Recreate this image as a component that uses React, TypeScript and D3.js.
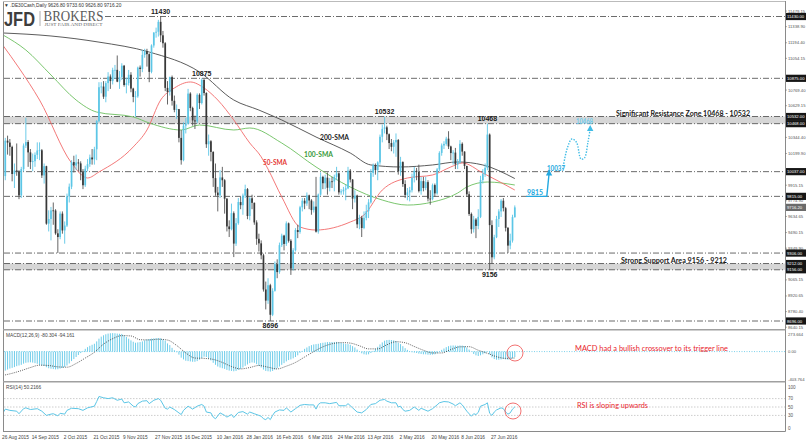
import React from 'react';
import * as d3 from 'd3';

// ---------- DATA ----------
// daily candles [open, high, low, close]
const ohlc: number[][] = [
[9880,10330,9720,9997],[9997,10340,9960,10315],[10315,10360,10190,10298],[10298,10330,10180,10259],[10259,10270,9950,10016],
[10016,10110,9890,10048],[10048,10290,10000,10038],[10038,10050,9790,9824],[9824,10080,9800,10060],[10060,10290,10040,10271],
[10271,10520,10250,10303],[10303,10320,10080,10210],[10210,10240,10060,10123],[10123,10200,10040,10131],[10131,10210,10080,10188],
[10188,10300,10150,10227],[10227,10300,10140,10229],[10229,10240,9980,10003],[10003,10110,9930,10086],[10086,10090,9560,9570],
[9570,9690,9500,9612],[9612,9720,9420,9689],[9689,9760,9560,9688],[9688,9700,9470,9483],[9483,9520,9306,9450],
[9450,9680,9430,9660],[9660,9680,9480,9509],[9509,9590,9390,9553],[9553,9840,9540,9814],[9814,9930,9760,9902],
[9902,10140,9880,10123],[10123,10180,10030,10092],[10092,10190,10050,10119],[10119,10150,10040,10111],[10111,10130,9960,10033],
[10033,10060,9880,9915],[9915,10090,9900,10064],[10064,10150,10040,10104],[10104,10190,10080,10164],[10164,10240,10100,10147],
[10147,10260,10100,10238],[10238,10500,10140,10491],[10491,10840,10480,10795],[10795,10840,10740,10801],[10801,10850,10690,10710],
[10710,10850,10660,10832],[10832,10930,10760,10891],[10891,10910,10780,10850],[10850,10970,10820,10950],[10950,10995,10870,10951],
[10951,11080,10840,10845],[10845,10940,10780,10887],[10887,11010,10860,10988],[10988,10995,10800,10815],[10815,10880,10740,10832],
[10832,10950,10810,10907],[10907,10930,10750,10783],[10783,10790,10660,10708],[10708,10760,10530,10713],[10713,10980,10700,10971],
[10971,10990,10890,10959],[10959,11130,10930,11085],[11085,11140,11060,11119],[11119,11140,10980,11092],[11092,11100,10840,10933],
[10933,11180,10920,11170],[11170,11290,11150,11285],[11285,11330,11240,11293],[11293,11400,11250,11382],[11382,11430,11200,11261],
[11261,11300,11150,11190],[11190,11200,10760,10789],[10789,10850,10640,10752],[10752,10890,10720,10886],[10886,10900,10630,10673],
[10673,10720,10570,10592],[10592,10640,10510,10598],[10598,10600,10300,10340],[10340,10410,10100,10140],[10140,10480,10130,10450],
[10450,10520,10380,10469],[10469,10780,10460,10738],[10738,10750,10580,10608],[10608,10620,10450,10497],[10497,10540,10420,10488],
[10488,10740,10470,10727],[10727,10740,10600,10653],[10653,10875,10640,10860],[10860,10870,10720,10743],[10743,10750,10250,10283],
[10283,10370,10180,10310],[10310,10320,10130,10214],[10214,10220,9900,9979],[9979,10110,9820,9849],[9849,9900,9680,9825],
[9825,10050,9800,9985],[9985,10080,9900,9960],[9960,9970,9660,9794],[9794,9800,9500,9545],[9545,9600,9450,9521],
[9521,9750,9510,9664],[9664,9680,9270,9391],[9391,9620,9370,9574],[9574,9800,9560,9764],[9764,9810,9700,9736],
[9736,9840,9650,9822],[9822,9920,9800,9880],[9880,9890,9610,9639],[9639,9810,9600,9798],[9798,9830,9700,9757],
[9757,9760,9560,9581],[9581,9600,9380,9434],[9434,9480,9320,9393],[9393,9420,9250,9286],[9286,9300,8960,8979],
[8979,9050,8800,8879],[8879,9080,8850,9017],[9017,9030,8696,8752],[8752,8990,8740,8967],[8967,9230,8960,9206],
[9206,9250,9080,9135],[9135,9400,9120,9377],[9377,9480,9360,9463],[9463,9470,9330,9388],[9388,9590,9370,9573],
[9573,9580,9400,9416],[9416,9430,9110,9167],[9167,9350,9150,9331],[9331,9530,9320,9513],[9513,9560,9440,9495],
[9495,9730,9480,9717],[9717,9800,9680,9776],[9776,9800,9700,9751],[9751,9850,9730,9824],[9824,9830,9700,9778],
[9778,9790,9650,9692],[9692,9770,9670,9723],[9723,9990,9490,9498],[9498,9840,9480,9831],[9831,10030,9820,9990],
[9990,10000,9880,9933],[9933,10010,9880,9983],[9983,10030,9830,9892],[9892,9980,9860,9950],[9950,9990,9890,9948],
[9948,10010,9860,9990],[9990,10080,9960,10022],[10022,10030,9830,9851],[9851,9880,9830,9860],[9860,9900,9830,9875],
[9875,9920,9780,9887],[9887,10080,9880,10046],[10046,10060,9940,9966],[9966,9970,9700,9795],[9795,9870,9760,9822],
[9822,9830,9530,9564],[9564,9650,9520,9624],[9624,9640,9450,9531],[9531,9680,9520,9622],[9622,9740,9600,9682],
[9682,9790,9620,9761],[9761,10060,9750,10026],[10026,10110,9990,10094],[10094,10110,10010,10051],[10051,10130,9960,10120],
[10120,10370,10100,10350],[10350,10460,10300,10421],[10421,10532,10380,10435],[10435,10450,10320,10373],[10373,10380,10240,10294],
[10294,10330,10220,10260],[10260,10320,10200,10300],[10300,10380,10170,10321],[10321,10330,10010,10039],[10039,10170,10000,10123],
[10123,10130,9900,9926],[9926,9960,9800,9828],[9828,9890,9780,9851],[9851,9900,9770,9870],[9870,10020,9850,9980],
[9980,10080,9940,10045],[10045,10070,9960,10036],[10036,10100,9850,9862],[9862,9990,9830,9952],[9952,9990,9860,9890],
[9890,9990,9870,9943],[9943,9960,9770,9795],[9795,9870,9740,9790],[9790,9930,9780,9916],[9916,9930,9810,9842],
[9842,10070,9830,10057],[10057,10220,10040,10205],[10205,10290,10180,10272],[10272,10310,10240,10286],[10286,10350,10270,10333],
[10333,10400,10240,10263],[10263,10270,10140,10204],[10204,10230,10100,10208],[10208,10250,10060,10103],[10103,10150,10060,10121],
[10121,10320,10110,10287],[10287,10300,10180,10217],[10217,10220,10060,10088],[10088,10090,9810,9834],[9834,9860,9640,9657],
[9657,9670,9480,9520],[9520,9640,9490,9607],[9607,9620,9440,9550],[9550,9700,9520,9631],[9631,10000,9620,9962],
[9962,10060,9930,10015],[10015,10110,9990,10071],[10071,10468,10050,10370],[10370,10380,9156,9557],[9557,9600,9210,9268],
[9268,9470,9250,9448],[9448,9640,9440,9612],[9612,9700,9540,9680],[9680,9790,9630,9776],[9776,9800,9680,9709],
[9709,9720,9500,9532],[9532,9540,9306,9373],[9373,9480,9340,9418],[9418,9650,9400,9629],[9626.8,9733.6,9626.8,9716.2]
];

// moving averages [bar index, value]
const sma50: number[][] = [[0,11170],[7,10968],[16,10680],[30,10115],[37,9980],[42,10034],[57,10259],[63,10411],[69,10680],[75,10788],[82,10842],[88,10788],[94,10680],[101,10501],[108,10294],[113,10170],[116,10060],[122,9810],[130,9540],[137,9513],[152,9585],[158,9648],[166,9872],[177,9980],[188,10007],[196,10079],[201,10115],[210,10025],[224,9872]];
const sma100: number[][] = [[0,11264],[10,11129],[21,10905],[32,10680],[41,10572],[57,10528],[64,10474],[78,10411],[86,10456],[101,10411],[108,10429],[122,10294],[137,10079],[152,9899],[166,9782],[177,9737],[188,9764],[199,9845],[203,9899],[212,9944],[224,9917]];
const sma200: number[][] = [[0,11282],[21,11255],[42,11200],[64,11111],[86,10932],[101,10680],[112,10590],[122,10501],[137,10348],[152,10204],[161,10097],[174,10079],[188,10097],[199,10124],[210,10097],[224,9975]];

// MACD(12,26,9) main values per bar and signal line
const macdMain: number[] = [
-290,-280,-265,-250,-240,-228,-215,-205,-195,-178,
-165,-160,-158,-162,-170,-180,-195,-205,-212,-230,
-245,-252,-258,-262,-260,-250,-240,-228,-205,-175,
-140,-110,-80,-50,-22,10,40,65,85,100,
115,150,190,220,240,255,265,270,272,270,
265,262,260,240,215,190,165,145,130,135,
140,150,165,180,185,190,195,198,200,195,
180,160,120,95,55,20,-10,-45,-90,-115,
-135,-140,-145,-150,-150,-140,-120,-95,-75,-80,
-100,-130,-165,-195,-220,-235,-245,-255,-270,-280,
-285,-290,-285,-270,-255,-235,-210,-190,-170,-160,
-165,-185,-210,-235,-265,-285,-290,-295,-285,-265,
-245,-220,-195,-170,-145,-125,-115,-100,-80,-55,
-20,10,40,60,80,95,105,110,115,125,
130,135,140,140,140,140,142,135,128,120,
112,110,100,80,60,30,0,-25,-40,-45,
-40,-20,10,40,70,105,135,160,170,172,
170,165,155,130,110,80,50,25,5,-10,
-15,-20,-30,-35,-40,-40,-45,-48,-45,-40,
-25,0,25,45,65,80,88,90,88,85,
90,88,80,60,30,-5,-35,-55,-65,-55,
-40,-25,-5,-40,-85,-110,-120,-120,-115,-110,
-115,-120,-115,-100,-80.304
];
const macdSignal: number[][] = [[0,-350],[4,-320],[8,-280],[12,-235],[16,-200],[20,-205],[24,-225],[28,-230],[32,-175],[36,-95],[40,-10],[44,110],[48,190],[52,235],[56,230],[60,175],[64,172],[68,182],[72,170],[76,90],[80,-20],[84,-95],[88,-100],[92,-115],[96,-160],[100,-220],[104,-255],[108,-235],[112,-205],[116,-230],[120,-255],[124,-215],[128,-160],[132,-80],[136,0],[140,70],[144,115],[148,132],[152,125],[156,85],[160,40],[164,40],[168,100],[172,145],[176,130],[180,75],[184,20],[188,-20],[192,-20],[196,30],[200,70],[204,72],[208,20],[212,-25],[216,-75],[220,-100],[224,-94.161]];

// RSI(14) [bar index, value]
const rsi14: number[][] = [[0,36],[1,45],[3,42],[6,40],[7,34],[9,46],[10,48],[12,44],[15,46],[17,40],[19,30],[21,33],[22,34],[24,29],[25,35],[27,33],[28,42],[30,47],[33,46],[35,42],[37,48],[40,52],[41,63],[42,75],[44,72],[46,70],[48,72],[50,66],[52,69],[53,60],[55,62],[57,52],[58,50],[59,58],[61,64],[63,65],[64,58],[66,66],[68,70],[69,66],[71,47],[72,45],[73,50],[75,44],[77,36],[78,32],[79,42],[81,52],[83,45],[85,52],[87,56],[88,52],[89,38],[91,36],[92,26],[93,22],[95,36],[97,30],[98,26],[100,32],[101,25],[103,37],[105,39],[107,33],[108,38],[110,34],[112,30],[113,28],[114,22],[115,20],[116,25],[117,20],[118,30],[119,38],[121,43],[123,42],[124,48],[126,38],[128,46],[130,54],[132,56],[134,55],[136,55],[137,45],[138,56],[139,60],[141,60],[143,58],[146,61],[147,53],[150,53],[151,58],[153,48],[155,38],[157,36],[159,44],[161,56],[163,58],[165,66],[167,68],[168,64],[170,60],[172,60],[173,50],[174,52],[175,44],[176,40],[178,42],[180,50],[182,42],[183,47],[186,40],[188,46],[190,55],[191,60],[193,63],[195,62],[197,57],[198,53],[200,60],[201,55],[203,40],[205,28],[206,34],[207,32],[208,37],[209,52],[211,56],[212,60],[213,35],[214,30],[215,38],[216,43],[218,48],[219,46],[220,38],[221,33],[222,36],[223,45],[224,50.2166]];

const priceTicks: number[] = [11479.15,11338.90,11194.40,11054.15,10908.65,10769.40,10629.15,10489.90,10344.40,10199.90,10059.65,9915.15,9774.90,9634.65,9490.15,9349.90,9209.65,9065.15,8920.65,8780.40,8640.15];
const keyLevels: number[] = [11430,10875,10532,10468,10037,9815,9306,9212,9156,8696];
const resistanceZone: number[] = [10468,10532];
const supportZone: number[] = [9156,9212];
const currentPrice = 9716.2;
const macdTicks: string[][] = [['273.664','273.664'],['0','0.00'],['-403.764','-403.764']];
const rsiTicks: number[] = [100,70,50,30,0];
const rsiLevels: number[] = [70,50,30];
const dateLabels: [number,string][] = [[0,'26 Aug 2015'],[13,'14 Sep 2015'],[27,'2 Oct 2015'],[40,'21 Oct 2015'],[53,'9 Nov 2015'],[67,'27 Nov 2015'],[80,'16 Dec 2015'],[94,'10 Jan 2016'],[107,'28 Jan 2016'],[120,'16 Feb 2016'],[134,'6 Mar 2016'],[147,'24 Mar 2016'],[160,'13 Apr 2016'],[174,'2 May 2016'],[188,'20 May 2016'],[201,'8 Jun 2016'],[214,'27 Jun 2016']];
// swing labels: [bar index, price, text, above?]
const swingLabels: [number,number,string,boolean][] = [[69,11430,'11430',true],[87,10875,'10875',true],[167,10532,'10532',true],[212,10468,'10468',true],[213,9156,'9156',false],[117,8696,'8696',false]];
// projected path [bar index, price]
const projSolid: number[][] = [[229,9815],[238,9815],[239,10020]];
const projDotted: number[][] = [[245,10060],[247,10250],[249,10330],[251,10300],[253,10150],[254.5,10160],[256,10300],[257,10420]];

const BULL = '#5cc6e6';
const BEAR = '#383838';
const CYAN = '#22a8e0';
const FONT = '"Liberation Sans", Arial, sans-serif';
const BOLD = 'Lato, "Open Sans", sans-serif';

export default function App() {
  const x = d3.scaleLinear().domain([0, 224]).range([3, 514.8]);
  const y = d3.scaleLinear().domain([8696, 11430]).range([321, 16.5]);
  const ym = d3.scaleLinear().domain([-403.764, 273.664]).range([379, 333]);
  const yr = d3.scaleLinear().domain([0, 100]).range([428, 386]);
  const L = 4, R = 785;

  const smaLine = d3.line<number[]>().x(d => x(d[0])).y(d => y(d[1])).curve(d3.curveMonotoneX);
  const sigLine = d3.line<number[]>().x(d => x(d[0])).y(d => ym(d[1])).curve(d3.curveMonotoneX);
  const rsiLine = d3.line<number[]>().x(d => x(d[0])).y(d => yr(d[1]));
  const projLine = d3.line<number[]>().x(d => x(d[0])).y(d => y(d[1]));
  const projCurve = d3.line<number[]>().x(d => x(d[0])).y(d => y(d[1])).curve(d3.curveCatmullRom);

  const dashDot = '6,2,1,2';
  const arrowHead = (px: number, py: number) => `M${px - 3.2},${py + 6} L${px},${py} L${px + 3.2},${py + 6} Z`;

  const s1 = projSolid[projSolid.length - 1];
  const s2 = projDotted[projDotted.length - 1];

  // axis labels hidden behind the level boxes are not drawn
  const boxYs = [...keyLevels, currentPrice].map(v => y(v));
  const visibleTicks = priceTicks.filter(v => {
    const yy = Math.max(4.5, Math.min(327.5, y(v)));
    return boxYs.every(b => Math.abs(b - yy) > 4);
  });

  const axisFont = 4.2;

  return (
    <svg width={806} height={442} viewBox="0 0 806 442" style={{ position: 'absolute', left: 0, top: 0, background: '#fff' }}>
      <defs>
        <clipPath id="main"><rect x={L} y={2} width={R - L} height={327} /></clipPath>
        <clipPath id="macd"><rect x={L} y={331} width={R - L} height={50} /></clipPath>
        <clipPath id="rsi"><rect x={L} y={383} width={R - L} height={48} /></clipPath>
      </defs>
      <rect x={0} y={0} width={806} height={442} fill="#fff" />

      {/* zones */}
      <rect x={L} y={y(resistanceZone[1])} width={R - L} height={y(resistanceZone[0]) - y(resistanceZone[1])} fill="#d6d6d6" />
      <rect x={L} y={y(supportZone[1])} width={R - L} height={y(supportZone[0]) - y(supportZone[1])} fill="#d6d6d6" />

      {/* key levels */}
      {keyLevels.map((v, i) => (
        <line key={i} x1={v === 11430 ? 105 : L} x2={R} y1={y(v)} y2={y(v)} stroke="#5a5a5a" strokeWidth={0.9} strokeDasharray={dashDot} />
      ))}

      {/* SMAs */}
      <g clipPath="url(#main)" fill="none" strokeWidth={0.9}>
        <path d={smaLine(sma200) || ''} stroke="#4a4a4a" />
        <path d={smaLine(sma100) || ''} stroke="#6cbf5f" />
        <path d={smaLine(sma50) || ''} stroke="#f26a6a" />
      </g>

      {/* candles */}
      <g clipPath="url(#main)">
        {ohlc.map((d, i) => {
          const [o, h, l, c] = d;
          const up = c >= o;
          const col = up ? BULL : BEAR;
          const top = y(Math.max(o, c));
          const bot = y(Math.min(o, c));
          return (
            <g key={i}>
              <line x1={x(i)} x2={x(i)} y1={y(h)} y2={y(l)} stroke={up ? BULL : '#555'} strokeWidth={0.9} />
              <rect x={x(i) - 0.85} y={top} width={1.7} height={Math.max(0.8, bot - top)} fill={col} />
            </g>
          );
        })}
      </g>

      {/* swing labels */}
      {swingLabels.map(([i, v, t, above], k) => (
        <text key={k} x={x(i)} y={above ? y(v) - (v === 11430 ? 3 : 2.5) : y(v) + 7} textAnchor="middle" fontFamily={FONT} fontWeight="bold" fontSize={7} fill="#1a1a1a">{t}</text>
      ))}

      {/* SMA labels */}
      <text x={320} y={139.5} fontFamily={BOLD} fontWeight="bold" fontSize={7} fill="#1a1a1a" textLength={29} lengthAdjust="spacingAndGlyphs">200-SMA</text>
      <text x={304} y={156.5} fontFamily={BOLD} fontWeight="bold" fontSize={7} fill="#3a9a3a" textLength={29} lengthAdjust="spacingAndGlyphs">100-SMA</text>
      <text x={263} y={164.5} fontFamily={BOLD} fontWeight="bold" fontSize={7} fill="#e53935" textLength={24} lengthAdjust="spacingAndGlyphs">50-SMA</text>

      {/* zone labels */}
      <text x={616} y={115.5} fontFamily={BOLD} fontWeight="bold" fontSize={7} fill="#1a1a1a" textLength={134} lengthAdjust="spacingAndGlyphs">Significant Resistance Zone 10468 - 10532</text>
      <text x={621} y={262.5} fontFamily={BOLD} fontWeight="bold" fontSize={7} fill="#1a1a1a" textLength={106} lengthAdjust="spacingAndGlyphs">Strong Support Area 9156 - 9212</text>

      {/* projection */}
      <path d={projLine(projSolid) || ''} fill="none" stroke={CYAN} strokeWidth={1.4} />
      <path d={arrowHead(x(s1[0]), y(s1[1]) - 4)} fill={CYAN} />
      <path d={projCurve(projDotted) || ''} fill="none" stroke="#3fbce6" strokeWidth={1.4} strokeDasharray="1.4,1.4" />
      <path d={arrowHead(x(s2[0]), y(s2[1]) - 4)} fill="#3fbce6" />
      <text x={527} y={194.5} fontFamily={BOLD} fontWeight="bold" fontSize={7} fill={CYAN} textLength={16} lengthAdjust="spacingAndGlyphs">9815</text>
      <text x={547} y={170.5} fontFamily={BOLD} fontWeight="bold" fontSize={7} fill={CYAN} textLength={18} lengthAdjust="spacingAndGlyphs">10037</text>
      <text x={576} y={123.5} fontFamily={BOLD} fontWeight="bold" fontSize={7} fill="#6fcdee" textLength={17} lengthAdjust="spacingAndGlyphs">10468</text>

      {/* MACD panel */}
      <line x1={L} x2={R} y1={ym(0)} y2={ym(0)} stroke={BULL} strokeWidth={0.8} strokeDasharray="1,1.5" />
      <g clipPath="url(#macd)">
        {macdMain.map((v, i) => (
          <line key={i} x1={x(i)} x2={x(i)} y1={ym(0)} y2={ym(v)} stroke={BULL} strokeWidth={0.9} />
        ))}
        <path d={sigLine(macdSignal) || ''} fill="none" stroke="#333" strokeWidth={0.8} strokeDasharray="1,1.2" />
      </g>
      <text x={6} y={337} fontFamily={FONT} fontSize={4.8} fill="#444">MACD(12,26,9) -80.304 -94.161</text>
      <text x={728} y={350.5} textAnchor="end" fontFamily={BOLD} fontSize={7} fill="#e8242c" textLength={153} lengthAdjust="spacingAndGlyphs">MACD had a bullish crossover to its trigger line</text>
      <circle cx={515} cy={353} r={8} fill="none" stroke="#f06262" strokeWidth={0.9} />

      {/* RSI panel */}
      {rsiLevels.map((v, i) => (
        <line key={i} x1={L} x2={R} y1={yr(v)} y2={yr(v)} stroke="#b8b8b8" strokeWidth={0.7} strokeDasharray="1.5,1.5" />
      ))}
      <g clipPath="url(#rsi)">
        <path d={rsiLine(rsi14) || ''} fill="none" stroke={BULL} strokeWidth={1} />
      </g>
      <text x={6} y={389} fontFamily={FONT} fontSize={4.8} fill="#444">RSI(14) 50.2166</text>
      <text x={577} y={407.5} fontFamily={BOLD} fontSize={7} fill="#e8242c" textLength={71} lengthAdjust="spacingAndGlyphs">RSI is sloping upwards</text>
      <circle cx={513} cy={411} r={8} fill="none" stroke="#f06262" strokeWidth={0.9} />

      {/* frame */}
      <line x1={3.5} x2={3.5} y1={1} y2={431.5} stroke="#8a8a8a" strokeWidth={1} />
      <line x1={3} x2={R + 0.5} y1={1.5} y2={1.5} stroke="#bbb" strokeWidth={1} />
      <line x1={R + 0.5} x2={R + 0.5} y1={1} y2={431.5} stroke="#8a8a8a" strokeWidth={1} />
      <line x1={3} x2={R + 0.5} y1={431.5} y2={431.5} stroke="#8a8a8a" strokeWidth={1} />
      <line x1={3} x2={R + 0.5} y1={329.8} y2={329.8} stroke="#a0a0a0" strokeWidth={1.6} />
      <line x1={3} x2={R + 0.5} y1={381.8} y2={381.8} stroke="#a0a0a0" strokeWidth={1.6} />

      {/* price axis */}
      {visibleTicks.map((v, i) => {
        const yy = Math.max(4.5, Math.min(327.5, y(v)));
        return (
          <g key={i}>
            <line x1={R} x2={R + 2} y1={yy} y2={yy} stroke="#777" strokeWidth={0.6} />
            <text x={788} y={yy + 1.5} fontFamily={FONT} fontSize={axisFont} fill="#555">{v.toFixed(2)}</text>
          </g>
        );
      })}
      {keyLevels.map((v, i) => (
        <g key={i}>
          <rect x={786} y={y(v) - 3.6} width={20} height={7.2} fill="#161616" />
          <text x={787} y={y(v) + 1.6} fontFamily={FONT} fontSize={axisFont} fill="#fff">{v.toFixed(2)}</text>
        </g>
      ))}
      <rect x={786} y={y(currentPrice) - 3.6} width={20} height={7.2} fill="#6a6a6a" />
      <text x={787} y={y(currentPrice) + 1.6} fontFamily={FONT} fontSize={axisFont} fill="#fff">{currentPrice.toFixed(2)}</text>

      {macdTicks.map(([v, t], i) => {
        const yy = Math.max(334, Math.min(379, ym(+v)));
        return <text key={i} x={788} y={yy + 1.5} fontFamily={FONT} fontSize={axisFont} fill="#555">{t}</text>;
      })}
      {rsiTicks.map((v, i) => {
        const yy = Math.max(387, Math.min(428, yr(v)));
        return <text key={i} x={788} y={yy + 1.5} fontFamily={FONT} fontSize={4.6} fill="#555">{v}</text>;
      })}

      {/* date axis */}
      {dateLabels.map(([i, t], k) => (
        <text key={k} x={x(i) - 1} y={438.5} fontFamily={FONT} fontSize={4.8} fill="#444">{t}</text>
      ))}

      {/* title and logo */}
      <text x={4} y={7} fontFamily={FONT} fontSize={4.8} fill="#333">▼ .DE30Cash,Daily  9626.80 9733.60 9626.80 9716.20</text>
      <text x={4} y={25.5} fontFamily={FONT} fontWeight="bold" fontSize={21} fill="#3d3d3d" textLength={31} lengthAdjust="spacingAndGlyphs">JFD</text>
      <line x1={40} x2={40} y1={11} y2={26} stroke="#9a9a9a" strokeWidth={0.8} />
      <text x={43.5} y={20.5} fontFamily='"Liberation Serif", serif' fontSize={15} fill="#5a5a5a" textLength={60} lengthAdjust="spacingAndGlyphs">BROKERS</text>
      <text x={44.5} y={26} fontFamily='"Liberation Serif", serif' fontSize={4.6} fill="#666" textLength={58} lengthAdjust="spacingAndGlyphs">JUST FAIR AND DIRECT</text>
    </svg>
  );
}
